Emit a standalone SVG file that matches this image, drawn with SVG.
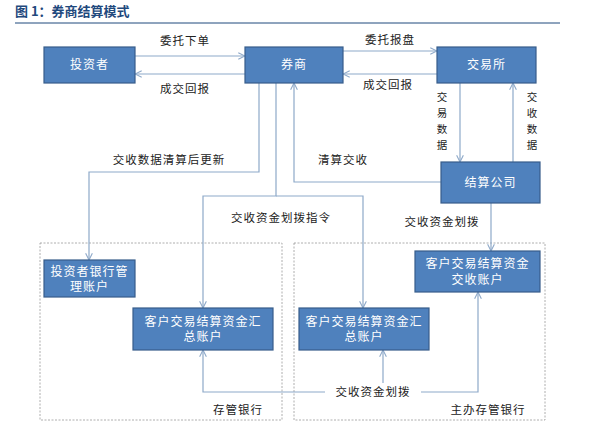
<svg xmlns="http://www.w3.org/2000/svg" width="601" height="427" viewBox="0 0 601 427">
<defs>
<marker id="a" viewBox="0 0 10 10" refX="9" refY="5" markerWidth="7" markerHeight="7" orient="auto"><path d="M1,1 L9,5 L1,9" fill="none" stroke="#8EA9C9" stroke-width="1.3"/></marker>
<style>
.b{fill:#4F81BD;stroke:#385D8A;stroke-width:1.2}
.w{fill:#fff;font-family:"Noto Sans CJK SC",sans-serif;font-size:12px;text-anchor:middle;letter-spacing:1px}
.t{fill:#222;font-family:"Noto Sans CJK SC",sans-serif;font-size:11.5px;text-anchor:middle;letter-spacing:1px}
.v{fill:#222;font-family:"Noto Sans CJK SC",sans-serif;font-size:10.5px;text-anchor:middle}
.l{fill:none;stroke:#8EA9C9;stroke-width:1.2}
.d{fill:none;stroke:#999;stroke-width:0.8;stroke-dasharray:2,1.5}
</style>
</defs>
<rect width="601" height="427" fill="#fff"/>
<text x="15" y="16" font-family="Noto Sans CJK SC,sans-serif" font-size="13" font-weight="bold" fill="#1F497D">图 1：券商结算模式</text>
<line x1="15" y1="23" x2="560" y2="23" stroke="#1F497D" stroke-width="1"/>
<rect class="d" x="40" y="243" width="242" height="177"/>
<rect class="d" x="294" y="243" width="251" height="177"/>
<g id="connectors">
<path class="l" d="M135,56 H245" marker-end="url(#a)"/>
<path class="l" d="M245,74 H135" marker-end="url(#a)"/>
<path class="l" d="M343,51 H437" marker-end="url(#a)"/>
<path class="l" d="M437,74 H343" marker-end="url(#a)"/>
<path class="l" d="M460,83 V162" marker-end="url(#a)"/>
<path class="l" d="M513,162 V83" marker-end="url(#a)"/>
<path class="l" d="M441,182 H294 V83" marker-end="url(#a)"/>
<path class="l" d="M259,83 V172 H89 V260" marker-end="url(#a)"/>
<path class="l" d="M276,83 V196 H203 V308" marker-end="url(#a)"/>
<path class="l" d="M276,196 H363 V308" marker-end="url(#a)"/>
<path class="l" d="M491,203 V251" marker-end="url(#a)"/>
<path class="l" d="M325,392 H203 V350" marker-end="url(#a)"/>
<path class="l" d="M421,392 H478 V292" marker-end="url(#a)"/>
<path class="l" d="M383,383 V350" marker-end="url(#a)"/>
</g>
<text class="t" x="185" y="45">委托下单</text>
<text class="t" x="185" y="93">成交回报</text>
<text class="t" x="390" y="44">委托报盘</text>
<text class="t" x="388" y="89">成交回报</text>
<text class="v" x="442" y="101">交</text><text class="v" x="442" y="117">易</text><text class="v" x="442" y="133">数</text><text class="v" x="442" y="149">据</text>
<text class="v" x="532" y="101">交</text><text class="v" x="532" y="117">收</text><text class="v" x="532" y="133">数</text><text class="v" x="532" y="149">据</text>
<text class="t" x="343" y="164">清算交收</text>
<text class="t" x="169" y="164">交收数据清算后更新</text>
<text class="t" x="281" y="222">交收资金划拨指令</text>
<text class="t" x="442" y="226">交收资金划拨</text>
<text class="t" x="373" y="396">交收资金划拨</text>
<text class="t" x="238" y="414">存管银行</text>
<text class="t" x="488" y="414">主办存管银行</text>
<g id="n1"><rect class="b" x="44" y="47" width="91" height="36"/><text class="w" x="89.5" y="69">投资者</text></g>
<g id="n2"><rect class="b" x="245" y="47" width="98" height="36"/><text class="w" x="294" y="69">券商</text></g>
<g id="n3"><rect class="b" x="437" y="47" width="99" height="36"/><text class="w" x="486.5" y="69">交易所</text></g>
<g id="n4"><rect class="b" x="441" y="162" width="99" height="41"/><text class="w" x="490.5" y="187">结算公司</text></g>
<g id="n5"><rect class="b" x="44" y="260" width="91" height="37"/><text class="w" x="89.5" y="276">投资者银行管</text><text class="w" x="89.5" y="291">理账户</text></g>
<g id="n6"><rect class="b" x="133" y="308" width="140" height="42"/><text class="w" x="203" y="326">客户交易结算资金汇</text><text class="w" x="203" y="341">总账户</text></g>
<g id="n7"><rect class="b" x="299" y="308" width="130" height="42"/><text class="w" x="364" y="326">客户交易结算资金汇</text><text class="w" x="364" y="341">总账户</text></g>
<g id="n8"><rect class="b" x="415" y="251" width="125" height="41"/><text class="w" x="477.5" y="268">客户交易结算资金</text><text class="w" x="477.5" y="284">交收账户</text></g>
</svg>
